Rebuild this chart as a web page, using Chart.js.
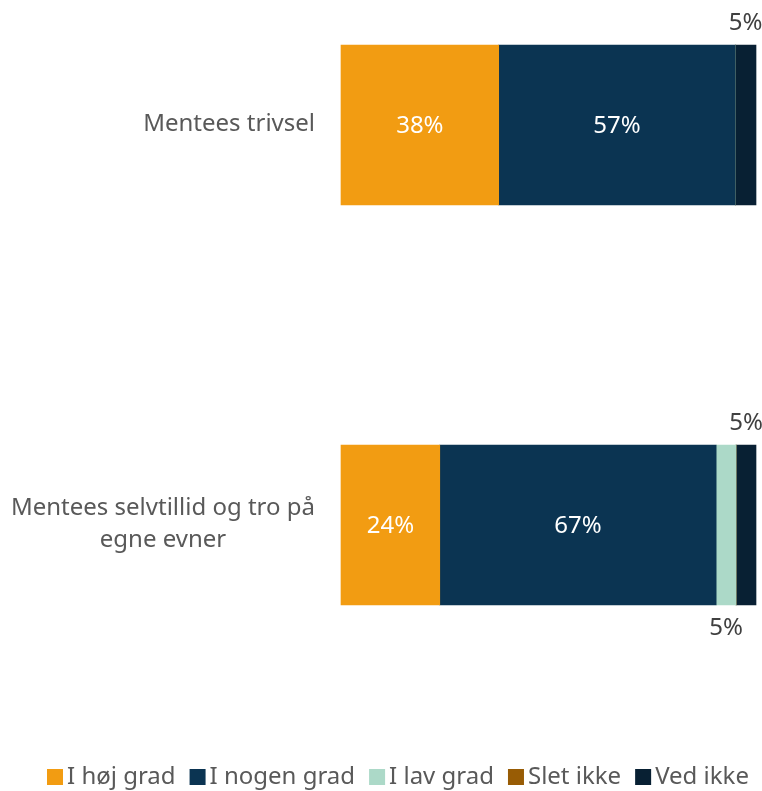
<!DOCTYPE html>
<html>
<head>
<meta charset="utf-8">
<script src="https://cdn.jsdelivr.net/npm/chart.js@4.4.1/dist/chart.umd.min.js"></script>
<style>
  html, body { margin: 0; padding: 0; background: #fff; }
  canvas { display: block; }
</style>
</head>
<body>
<canvas id="chart" width="762" height="791"></canvas>
<script>
// categories (multi-line labels) and the five answer series, in %
const categories = [['Mentees trivsel'], ['Mentees selvtillid og tro på', 'egne evner']];
const seriesNames = ['I høj grad', 'I nogen grad', 'I lav grad', 'Slet ikke', 'Ved ikke'];
const seriesColors = ['#F29C12', '#0B3452', '#ACD9C8', '#985C05', '#082033'];
const hojGrad = [38, 23.8];
const nogenGrad = [57, 66.6];
const lavGrad = [0, 4.8];
const sletIkke = [0, 0];
const vedIkke = [5, 4.8];

const FONT = '"Noto Sans", "Open Sans", sans-serif';

// draws the category names to the left of the bars
const categoryLabels = {
    id: 'categoryLabels',
    afterDraw(chart) {
        const { ctx, chartArea } = chart;
        const y = chart.scales.y;
        ctx.save();
        ctx.font = '24px ' + FONT;
        ctx.fillStyle = '#595959';
        ctx.textAlign = 'center';
        ctx.textBaseline = 'middle';
        chart.data.labels.forEach((lines, i) => {
            const w = Math.max(...lines.map(l => ctx.measureText(l).width));
            const cx = chartArea.left - 26 - w / 2;
            const cy = y.getPixelForValue(i);
            lines.forEach((l, j) => {
                ctx.fillText(l, cx, cy - 1 + (j - (lines.length - 1) / 2) * 32);
            });
        });
        ctx.restore();
    }
};

// percentage labels: inside for big segments, above/below for small ones
const valueLabels = {
    id: 'valueLabels',
    afterDatasetsDraw(chart) {
        const ctx = chart.ctx;
        ctx.save();
        ctx.font = '24px ' + FONT;
        ctx.textAlign = 'center';
        ctx.textBaseline = 'middle';
        chart.data.datasets.forEach((ds, di) => {
            chart.getDatasetMeta(di).data.forEach((bar, i) => {
                const v = ds.data[i];
                if (!v) return;
                const p = bar.getProps(['x', 'y', 'base', 'height'], true);
                const cx = (p.x + p.base) / 2;
                const txt = Math.round(v) + '%';
                if (v >= 10) {
                    ctx.fillStyle = '#ffffff';
                    ctx.fillText(txt, cx, p.y + 1);
                } else if (di === 2) {
                    ctx.fillStyle = '#404040';
                    ctx.fillText(txt, cx, p.y + p.height / 2 + 23);
                } else {
                    ctx.fillStyle = '#404040';
                    ctx.fillText(txt, cx, p.y - p.height / 2 - 22);
                }
            });
        });
        ctx.restore();
    }
};

// legend with tight box/text spacing, drawn along the bottom
const bottomLegend = {
    id: 'bottomLegend',
    afterDraw(chart) {
        const ctx = chart.ctx;
        ctx.save();
        ctx.font = '24px ' + FONT;
        ctx.textAlign = 'left';
        ctx.textBaseline = 'middle';
        let x = 47;
        const yc = 777;
        chart.data.datasets.forEach(ds => {
            ctx.fillStyle = ds.backgroundColor;
            ctx.fillRect(x, yc - 8, 16, 16);
            x += 20;
            ctx.fillStyle = '#595959';
            ctx.fillText(ds.label, x, yc);
            x += ctx.measureText(ds.label).width + 14;
        });
        ctx.restore();
    }
};

const seriesData = [hojGrad, nogenGrad, lavGrad, sletIkke, vedIkke];

new Chart(document.getElementById('chart'), {
    type: 'bar',
    data: {
        labels: categories,
        datasets: seriesNames.map((name, i) => ({
            label: name,
            data: seriesData[i],
            backgroundColor: seriesColors[i],
            borderWidth: 0,
            barThickness: 160,
            clip: false
        }))
    },
    options: {
        indexAxis: 'y',
        responsive: false,
        maintainAspectRatio: false,
        animation: false,
        layout: { padding: { top: 125, left: 0, right: 6, bottom: 266 } },
        scales: {
            x: {
                stacked: true,
                min: 0,
                max: 100,
                display: false
            },
            y: {
                stacked: true,
                offset: false,
                ticks: { display: false },
                grid: { display: false },
                border: { display: false },
                afterFit: s => { s.width = 341; }
            }
        },
        plugins: {
            legend: { display: false },
            tooltip: { enabled: false }
        }
    },
    plugins: [categoryLabels, valueLabels, bottomLegend]
});
</script>
</body>
</html>
